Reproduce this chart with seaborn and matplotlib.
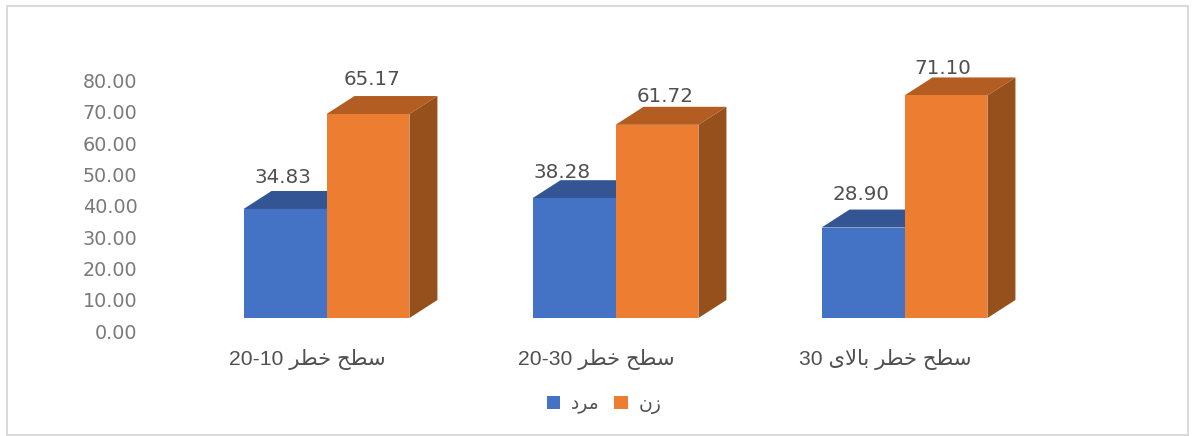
import pandas as pd
import seaborn as sns
import matplotlib
matplotlib.use("Agg")
import matplotlib.pyplot as plt
from matplotlib.patches import Polygon, Rectangle
from matplotlib.transforms import ScaledTranslation

# arabic letters in display order, matplotlib does no shaping itself
levels = ["20-10 \ufeae\ufec4\ufea7 \ufea2\ufec4\ufeb3",
          "20-30 \ufeae\ufec4\ufea7 \ufea2\ufec4\ufeb3",
          "30 \ufbfc\ufefb\ufe8e\ufe91 \ufeae\ufec4\ufea7 \ufea2\ufec4\ufeb3"]
men_label = "\ufea9\ufeae\ufee3"
women_label = "\ufee5\ufeaf"
men = [34.83, 38.28, 28.90]
women = [65.17, 61.72, 71.10]
y_ticks = [0, 10, 20, 30, 40, 50, 60, 70, 80]

W, H = 1192, 436
front_colors = ["#4472C4", "#ED7D31"]
top_colors = ["#345594", "#B35D22"]
side_colors = ["#2F4F8A", "#96501C"]
depth_x, depth_y = 28, 18  # pixels

# label nudges in pixels, they are placed by hand in the original
label_dx = [[-2, -12, -2], [4, 8, -3]]
label_dy = [[13, 8, 15], [17, 10, 9]]

df = pd.DataFrame({
    "level": levels * 2,
    "sex": [men_label] * 3 + [women_label] * 3,
    "value": men + women,
})

sns.set_style("white")
plt.rcParams["font.family"] = ["DejaVu Sans"]
fig = plt.figure(figsize=(W / 100, H / 100), dpi=100)
ax = fig.add_axes([182 / W, (H - 318) / H, 867 / W, 250.4 / H])
sns.barplot(data=df, x="level", y="value", hue="sex", order=levels,
            hue_order=[men_label, women_label], palette=front_colors,
            width=0.574, gap=0, saturation=1, linewidth=0, ax=ax)
ax.set_xlim(-0.5, 2.5)
ax.set_ylim(0, 80)
ax.set_xlabel("")
ax.set_ylabel("")
sns.despine(ax=ax, left=True, bottom=True)

ux = 3 / 867
uy = 80 / 250.4
for s, bars in enumerate(ax.containers):
    for i, bar in enumerate(bars):
        x0, w, h = bar.get_x(), bar.get_width(), bar.get_height()
        x1 = x0 + w
        dx = depth_x * ux
        dy = depth_y * uy
        bar.set_edgecolor("none")
        bar.set_zorder(3 + s * 2)
        ax.add_patch(Polygon([(x0, h), (x0 + dx, h + dy), (x1 + dx, h + dy), (x1, h)],
                             facecolor=top_colors[s], edgecolor="none", zorder=2 + s * 2, clip_on=False))
        ax.add_patch(Polygon([(x1, 0), (x1 + dx, dy), (x1 + dx, h + dy), (x1, h)],
                             facecolor=side_colors[s], edgecolor="none", zorder=2 + s * 2, clip_on=False))
        ax.annotate(f"{h:.2f}", (x0 + w / 2, h), xytext=(label_dx[s][i], depth_y + label_dy[s][i]),
                    textcoords="offset pixels", ha="center", va="center",
                    fontsize=14.3, color="#505050", zorder=10)

ax.set_yticks(y_ticks)
ax.set_yticklabels([f"{v:.2f}" for v in y_ticks], fontsize=13.8, color="#7a7a7a")
ax.tick_params(axis="y", length=0, pad=32)
ax.tick_params(axis="x", length=0, pad=22)
ax.set_xticks(range(3))
ax.set_xticklabels(levels, fontsize=15.2, color="#505050", family=["Liberation Sans", "DejaVu Sans"])

down = ScaledTranslation(0, -13 / 100, fig.dpi_scale_trans)
for t in ax.get_yticklabels():
    t.set_transform(t.get_transform() + down)
left = ScaledTranslation(-19 / 100, 0, fig.dpi_scale_trans)
for t in ax.get_xticklabels():
    t.set_transform(t.get_transform() + left)

handles, labels = ax.get_legend_handles_labels()
ax.legend_.remove()
fig.legend(handles, labels, ncol=2, loc="center", bbox_to_anchor=(604 / W, (H - 404) / H),
           frameon=False, fontsize=13.5, labelcolor="#505050", handlelength=0.72, handleheight=0.72,
           handletextpad=0.55, columnspacing=0.8)

fig.add_artist(Rectangle((7 / W, 1 / H), 1181 / W, 429 / H, transform=fig.transFigure,
                         facecolor="none", edgecolor="#d9d9d9", linewidth=1.4))
fig.savefig("out.png", dpi=100)
